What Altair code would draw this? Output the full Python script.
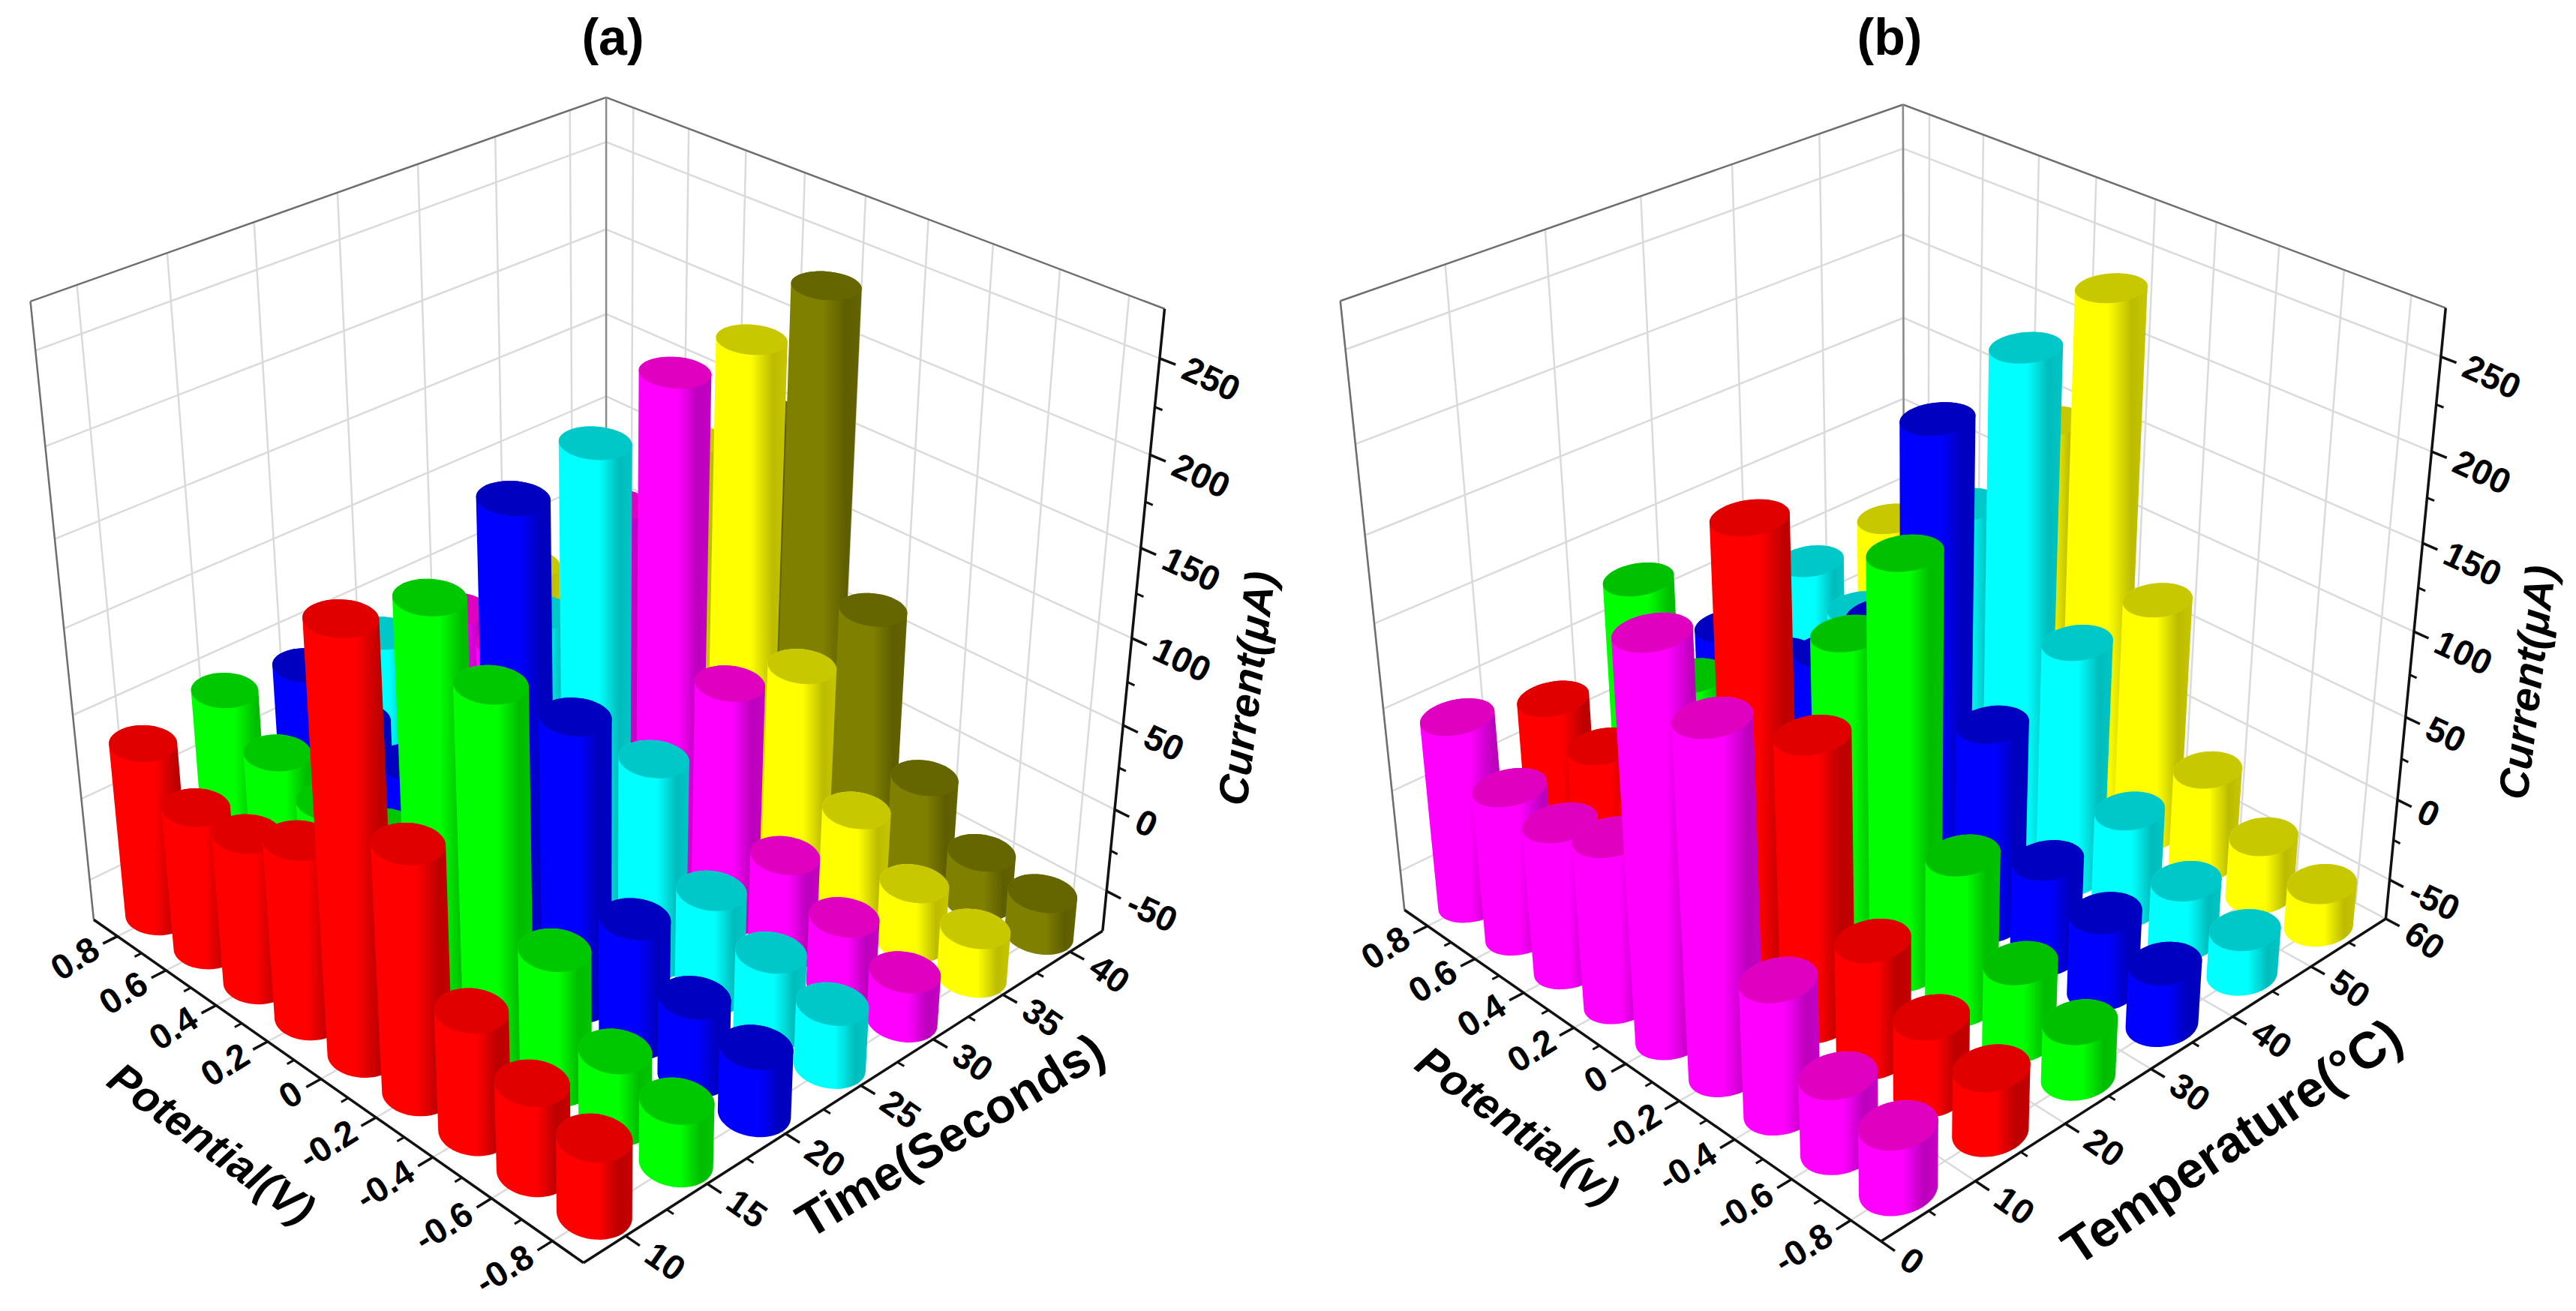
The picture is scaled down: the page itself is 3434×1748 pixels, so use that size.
import numpy as np
import altair as alt

# ---- data -----------------------------------------------------------------
potentials = [0.8, 0.6, 0.4, 0.2, 0.0, -0.2, -0.4, -0.6, -0.8]
potential_ticks = ["0.8", "0.6", "0.4", "0.2", "0", "-0.2", "-0.4", "-0.6", "-0.8"]
current_ticks = [-50, 0, 50, 100, 150, 200, 250]

times = [10, 15, 20, 25, 30, 35, 40]
time_ticks = [10, 15, 20, 25, 30, 35, 40]
colors_a = ["#ff0000", "#00ff00", "#0000ff", "#00ffff", "#ff00ff", "#ffff00", "#808000"]
tops_a = ["#e00000", "#00c800", "#0000c0", "#00c8c8", "#e000c0", "#c8c800", "#666600"]
currents_a = [
    [31, 12, 16, 32, 172, 70, -3, -22, -30],
    [40, 21, 11, 15, 162, 133, 5, -32, -38],
    [33, 18, 11, 18, 194, 93, -3, -28, -35],
    [31, 20, 15, 95, 204, 46, -12, -28, -37],
    [25, 20, 15, 136, 223, 67, -16, -33, -45],
    [32, 20, 15, 154, 223, 55, -13, -38, -45],
    [30, 20, 15, 152, 235, 67, -17, -44, -49],
]

temps = [5, 15, 25, 35, 45, 55]
temp_ticks = [0, 10, 20, 30, 40, 50, 60]
colors_b = ["#ff00ff", "#ff0000", "#00ff00", "#0000ff", "#00ffff", "#ffff00"]
tops_b = ["#e000c0", "#e00000", "#00c000", "#0000c0", "#00c8c8", "#c8c800"]
currents_b = [
    [41, 17, 15, 26, 159, 131, 4, -30, -36],
    [26, 15, 7, 15, 196, 95, -4, -28, -36],
    [74, 32, 20, 20, 109, 170, 17, -27, -41],
    [21, 20, 40, 78, 205, 48, -15, -27, -37],
    [38, 25, 20, 120, 223, 71, -13, -37, -47],
    [42, 25, 20, 147, 236, 72, -15, -38, -48],
]

# ---- camera calibration: cube corners and a few axis ticks on the picture --
Z0, Z1 = -75.0, 275.0
P0, P1 = 0.9, -0.9
CAL_A = [((0, 0, 0), (127, 1227)), ((1, 0, 0), (779, 1679)), ((1, 1, 0), (1469, 1242)),
         ((0, 1, 0), (808, 885)), ((0, 0, 1), (41, 401)), ((1, 1, 1), (1552, 409)),
         ((0, 1, 1), (808, 131)), ((1, 1, 175 / 350), (1509, 855)),
         ((0.5, 0, 0), (423, 1443)), ((1, 0.5, 0), (1150, 1447))]
CAL_B = [((0, 0, 0), (1875, 1212)), ((1, 0, 0), (2509, 1652)), ((1, 1, 0), (3178, 1224)),
         ((0, 1, 0), (2539, 885)), ((0, 0, 1), (1788, 402)), ((1, 1, 1), (3260, 410)),
         ((0, 1, 1), (2536, 138)), ((1, 1, 175 / 350), (3218, 845)),
         ((0.5, 0, 0), (2159, 1422)), ((1, 0.5, 0), (2873, 1425))]


def fit(cal):
    rows = []
    for (u, v, w), (x, y) in cal:
        x, y = x / 1000, y / 1000
        rows.append([u, v, w, 1, 0, 0, 0, 0, -x * u, -x * v, -x * w, -x])
        rows.append([0, 0, 0, 0, u, v, w, 1, -y * u, -y * v, -y * w, -y])
    m = np.linalg.svd(np.array(rows, float))[2][-1].reshape(3, 4)
    return m


def project(m, u, v, w):
    h = m @ np.array([u, v, w, 1.0])
    return h[0] / h[2] * 1000, h[1] / h[2] * 1000


def shade(c, f):
    r, g, b = int(c[1:3], 16), int(c[3:5], 16), int(c[5:7], 16)
    return "#%02x%02x%02x" % (int(r * f), int(g * f), int(b * f))


def hull(pts):
    pts = sorted(set(pts))
    def half(seq):
        out = []
        for p in seq:
            while len(out) > 1 and (out[-1][0] - out[-2][0]) * (p[1] - out[-2][1]) - (out[-1][1] - out[-2][1]) * (p[0] - out[-2][0]) <= 0:
                out.pop()
            out.append(p)
        return out[:-1]
    return half(pts) + half(pts[::-1])


def path(pts, x0, y0):
    return "M" + "L".join("%.1f,%.1f" % (a - x0, b - y0) for a, b in pts) + "Z"


rules, parts, tick_left, tick_right = [], [], [], []
GRID, FRAME, AX = "#dadada", "#6e6e6e", "#111111"


def seg(m, a, b, color, w):
    x, y = project(m, *a)
    x2, y2 = project(m, *b)
    rules.append({"x": x, "y": y, "x2": x2, "y2": y2, "c": color, "w": w})


def panel(cal, secondary, sec_ticks, sec_minor, s0, s1, series, colors, tops, ru, rv):
    m = fit(cal)
    U = lambda p: (p - P0) / (P1 - P0)
    V = lambda s: (s - s0) / (s1 - s0)
    W = lambda z: (z - Z0) / (Z1 - Z0)
    # walls and floor grid
    for t in sec_ticks:
        seg(m, (0, V(t), 0), (1, V(t), 0), GRID, 2.5)
        seg(m, (0, V(t), 0), (0, V(t), 1), GRID, 2.5)
    for p in potentials:
        seg(m, (U(p), 0, 0), (U(p), 1, 0), GRID, 2.5)
        seg(m, (U(p), 1, 0), (U(p), 1, 1), GRID, 2.5)
    for z in current_ticks:
        seg(m, (0, 0, W(z)), (0, 1, W(z)), GRID, 2.5)
        seg(m, (0, 1, W(z)), (1, 1, W(z)), GRID, 2.5)
    # frame
    seg(m, (0, 0, 1), (0, 1, 1), FRAME, 2.5)
    seg(m, (0, 1, 1), (1, 1, 1), FRAME, 2.5)
    seg(m, (0, 0, 0), (0, 0, 1), FRAME, 2.5)
    seg(m, (0, 1, 0), (0, 1, 1), "#8a8a8a", 2.5)
    # axes and ticks
    seg(m, (0, 0, 0), (1, 0, 0), AX, 3.5)
    seg(m, (1, 0, 0), (1, 1, 0), AX, 3.5)
    seg(m, (1, 1, 0), (1, 1, 1), AX, 3.5)
    for p, lab in zip(potentials, potential_ticks):
        seg(m, (U(p), 0, 0), (U(p), -0.025, 0), AX, 3.5)
        x, y = project(m, U(p), -0.036, 0)
        tick_right.append({"x": x, "y": y, "t": lab, "a": 328})
    for p in np.arange(-0.7, 0.8, 0.2):
        seg(m, (U(p), 0, 0), (U(p), -0.012, 0), AX, 3)
    for t in sec_ticks:
        seg(m, (1, V(t), 0), (1.025, V(t), 0), AX, 3.5)
        x, y = project(m, 1.04, V(t), 0)
        tick_left.append({"x": x, "y": y, "t": str(t), "a": 35})
    for t in sec_minor:
        seg(m, (1, V(t), 0), (1.012, V(t), 0), AX, 3)
    for z in current_ticks:
        seg(m, (1, 1, W(z)), (1.025, 1, W(z)), AX, 3.5)
        x, y = project(m, 1.038, 1, W(z))
        tick_left.append({"x": x, "y": y, "t": str(z), "a": 25})
    for z in np.arange(-25, 250, 50):
        seg(m, (1, 1, W(z)), (1.012, 1, W(z)), AX, 3)
    # cylinders, far to near
    bars = []
    for i, s in enumerate(secondary):
        for j, p in enumerate(potentials):
            bars.append((U(p) - V(s), i, j, U(p), V(s)))
    th = np.linspace(0, 2 * np.pi, 49)[:-1]
    for _, i, j, u, v in sorted(bars):
        z = series[i][j]
        low = [project(m, u + ru * np.cos(a), v + rv * np.sin(a), 0) for a in th]
        high = [project(m, u + ru * np.cos(a), v + rv * np.sin(a), W(z)) for a in th]
        x0, y0 = project(m, u, v, 0)
        c = colors[i]
        grad = {"gradient": "linear", "x1": 0, "y1": 0, "x2": 1, "y2": 0,
                "stops": [{"offset": 0, "color": c}, {"offset": 0.55, "color": c},
                          {"offset": 0.82, "color": shade(c, 0.74)},
                          {"offset": 1, "color": shade(c, 0.78)}]}
        parts.append({"x": x0, "y": y0, "d": path(hull(low + high), x0, y0), "f": grad})
        parts.append({"x": x0, "y": y0, "d": path(high, x0, y0), "f": tops[i]})


panel(CAL_A, times, time_ticks, [12.5, 17.5, 22.5, 27.5, 32.5, 37.5], 7.5, 42.5,
      currents_a, colors_a, tops_a, 0.05, 0.044)
panel(CAL_B, temps, temp_ticks, temps, 0, 60,
      currents_b, colors_b, tops_b, 0.045, 0.055)

titles = [
    {"x": 817, "y": 53, "t": "(a)", "a": 0, "s": 68},
    {"x": 2519, "y": 53, "t": "(b)", "a": 0, "s": 68},
    {"x": 1268, "y": 1516, "t": "Time(Seconds)", "a": 329, "s": 65},
    {"x": 2977, "y": 1525, "t": "Temperature(°C)", "a": 326, "s": 68},
]
titles_it = [
    {"x": 280, "y": 1527, "t": "Potential(V)", "a": 36, "s": 58},
    {"x": 2021, "y": 1503, "t": "Potential(v)", "a": 36, "s": 58},
    {"x": 1664, "y": 918, "t": "Current(μA)", "a": 277, "s": 56},
    {"x": 3371, "y": 910, "t": "Current(μA)", "a": 277, "s": 56},
]

X = alt.X("x:Q", axis=None, scale=alt.Scale(domain=[8, 3426], nice=False, zero=False))
Y = alt.Y("y:Q", axis=None, scale=alt.Scale(domain=[1740, 8], nice=False, zero=False))
FONT = "Liberation Sans"

rule_layer = alt.Chart(alt.Data(values=rules)).mark_rule().encode(
    x=X, y=Y, x2="x2:Q", y2="y2:Q",
    color=alt.Color("c:N", scale=None),
    strokeWidth=alt.StrokeWidth("w:Q", scale=None),
)
bar_layer = alt.Chart(alt.Data(values=parts)).mark_point(filled=True, opacity=1, strokeWidth=0).encode(
    x=X, y=Y,
    shape=alt.Shape("d:N", scale=None),
    fill=alt.Fill("f:N", scale=None),
    size=alt.value(4),
)


def text_layer(rows, size=None, **kw):
    enc = dict(x=X, y=Y, text="t:N", angle=alt.Angle("a:Q", scale=None))
    if size is None:
        enc["size"] = alt.Size("s:Q", scale=None)
    mark = dict(font=FONT, fontWeight="bold", color="#000000", baseline="middle")
    if size is not None:
        mark["fontSize"] = size
    mark.update(kw)
    return alt.Chart(alt.Data(values=rows)).mark_text(**mark).encode(**enc)


chart = alt.layer(
    rule_layer,
    bar_layer,
    text_layer(tick_left, size=47, align="left"),
    text_layer(tick_right, size=47, align="right"),
    text_layer(titles, align="center"),
    text_layer(titles_it, align="center", fontStyle="italic"),
).properties(width=3418, height=1732, padding=0).configure_view(stroke=None)

chart.save("out.html", embed_options={"renderer": "svg", "actions": False})
